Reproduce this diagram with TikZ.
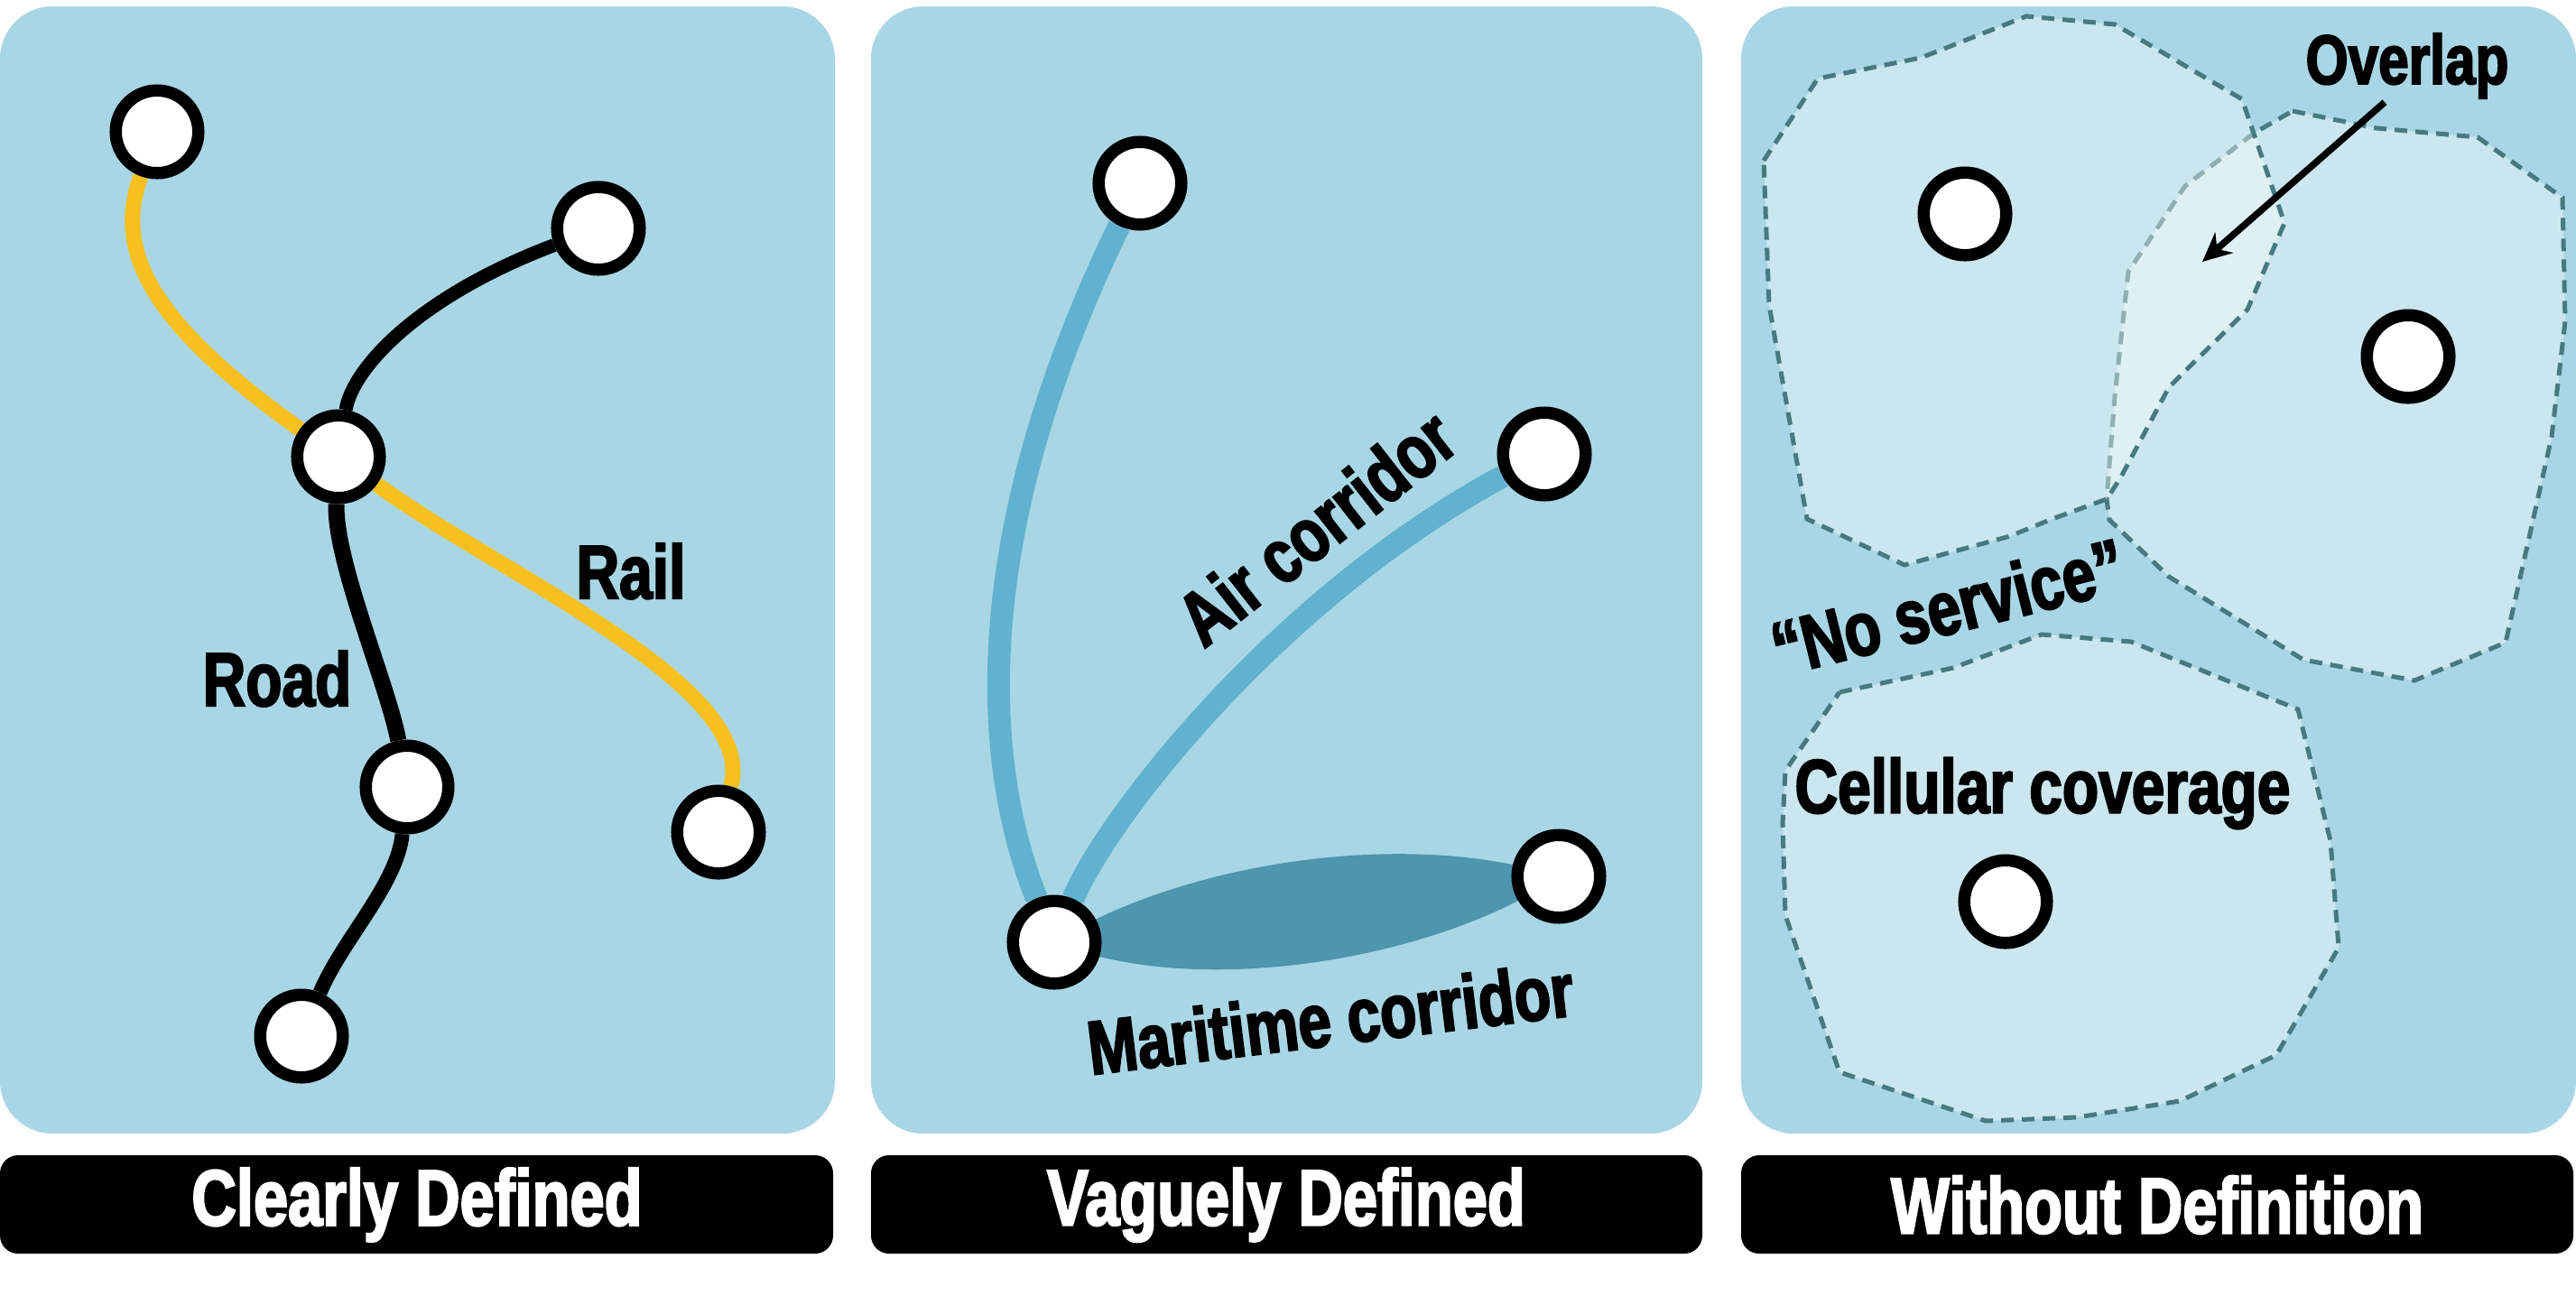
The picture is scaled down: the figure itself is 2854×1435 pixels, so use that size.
\documentclass[tikz,border=0pt]{standalone}
\usepackage{fontspec}
\setmainfont{Liberation Sans}[FakeStretch=0.78, BoldFeatures={FakeBold=2.5}]
\usetikzlibrary{arrows.meta}

\definecolor{panelblue}{RGB}{169,214,228}
\definecolor{railyellow}{RGB}{246,193,30}
\definecolor{airblue}{RGB}{96,178,207}
\definecolor{seablue}{RGB}{78,149,174}
\definecolor{edgeteal}{RGB}{70,122,128}

\pgfdeclarelayer{back}
\pgfdeclarelayer{links}
\pgfsetlayers{back,links,main}

\tikzset{
  panel/.style={fill=panelblue, rounded corners=0.58cm},
  bar/.style={fill=black, rounded corners=0.2cm},
  site/.style={circle, draw=black, fill=white, line width=0.135cm, minimum size=0.915cm, inner sep=0pt},
  road/.style={draw=black, line width=0.16cm},
  rail/.style={draw=railyellow, line width=0.17cm},
  air/.style={draw=airblue, line width=0.25cm},
  cell/.style={draw=edgeteal, fill=white, fill opacity=0.4, line width=0.05cm, dash pattern=on 0.14cm off 0.09cm},
  lbl/.style={font=\bfseries\fontsize{24}{28}\selectfont, inner sep=1pt},
  bartext/.style={font=\bfseries\fontsize{25}{30}\selectfont, text=white},
}

\begin{document}
\begin{tikzpicture}[x=0.01cm, y=-0.01cm]
\useasboundingbox (0,0) rectangle (2854,1435);

% panels and title bars
\begin{pgfonlayer}{back}
\fill[panel] (0,7) rectangle (925,1256);
\fill[panel] (965,7) rectangle (1886,1256);
\fill[panel] (1929,7) rectangle (2854,1256);
\fill[bar] (0,1280) rectangle (923,1389);
\fill[bar] (965,1280) rectangle (1886,1389);
\fill[bar] (1929,1280) rectangle (2851,1389);
\end{pgfonlayer}
\node[bartext] (t1) at (462,1335) {Clearly Defined};
\node[bartext] (t2) at (1425,1335) {Vaguely Defined};
\node[bartext] (t3) at (2390,1335) {Without Definition};

% clearly defined
\node[site] (n1) at (174,146) {};
\node[site] (n2) at (663,253) {};
\node[site] (hub) at (375,506) {};
\node[site] (n4) at (451,872) {};
\node[site] (n5) at (334,1148) {};
\node[site] (n6) at (796,922) {};
\begin{pgfonlayer}{links}
\draw[rail] (n1) .. controls (125,280) and (170,360) .. (hub);
\draw[rail] (hub) .. controls (560,640) and (840,760) .. (n6);
\draw[road, line width=0.15cm] (hub) .. controls (390,410) and (460,330) .. (n2);
\draw[road, line width=0.18cm] (hub) .. controls (370,620) and (430,760) .. (n4);
\draw[road] (n4) .. controls (440,980) and (380,1040) .. (n5);
\end{pgfonlayer}
\node[lbl] (road) at (307,752) {Road};
\node[lbl] (rail) at (699,633) {Rail};

% vaguely defined
\node[site] (a1) at (1263,203) {};
\node[site] (a2) at (1711,503) {};
\node[site] (port) at (1168,1044) {};
\node[site] (a3) at (1727,971) {};
\begin{pgfonlayer}{links}
\fill[seablue] (port.center) .. controls (1300,960) and (1550,915) .. (a3.center)
  .. controls (1600,1060) and (1330,1110) .. (port.center);
\draw[air] (port) .. controls (1090,850) and (1070,600) .. (a1);
\draw[air] (port) .. controls (1230,900) and (1420,660) .. (a2);
\end{pgfonlayer}
\node[lbl, rotate=38] (air) at (1458,584) {Air corridor};
\node[lbl, rotate=7] (sea) at (1474,1128) {Maritime corridor};

% without definition
\draw[cell] (2540,123) -- (2633,142) -- (2745,152) -- (2839,219) -- (2842,356) -- (2827,484)
  -- (2776,712) -- (2675,754) -- (2552,731) -- (2403,639) -- (2337,576) -- (2334,553)
  -- (2343,439) -- (2358,301) -- (2421,206) -- (2498,147) -- cycle;
\draw[cell] (1954,178) -- (2014,87) -- (2128,64) -- (2146,57) -- (2245,18) -- (2343,27)
  -- (2484,110) -- (2531,247) -- (2490,343) -- (2421,411) -- (2403,429) -- (2349,530)
  -- (2334,553) -- (2271,576) -- (2227,594) -- (2110,626) -- (2002,575) -- (1960,338) -- cycle;
\draw[cell] (2038,767) -- (2164,740) -- (2262,703) -- (2361,711) -- (2546,786) -- (2582,932)
  -- (2591,1050) -- (2522,1169) -- (2415,1220) -- (2301,1238) -- (2200,1242) -- (2038,1188)
  -- (1978,1014) -- (1975,913) -- (1978,854) -- cycle;
\node[site] (c1) at (2177,237) {};
\node[site] (c2) at (2668,395) {};
\node[site] (c3) at (2222,999) {};
\node[lbl, font=\bfseries\fontsize{22}{26}\selectfont] (overlap) at (2667,73) {Overlap};
\coordinate (ovtip) at (2440,290);
\draw[line width=0.075cm, -{Stealth[length=0.32cm, width=0.3cm]}] ([xshift=-0.25cm]overlap.south) -- (ovtip);
\node[lbl, rotate=14] (nosvc) at (2158,672) {“No service”};
\node[lbl] (cellcov) at (2263,879) {Cellular coverage};
\end{tikzpicture}
\end{document}
